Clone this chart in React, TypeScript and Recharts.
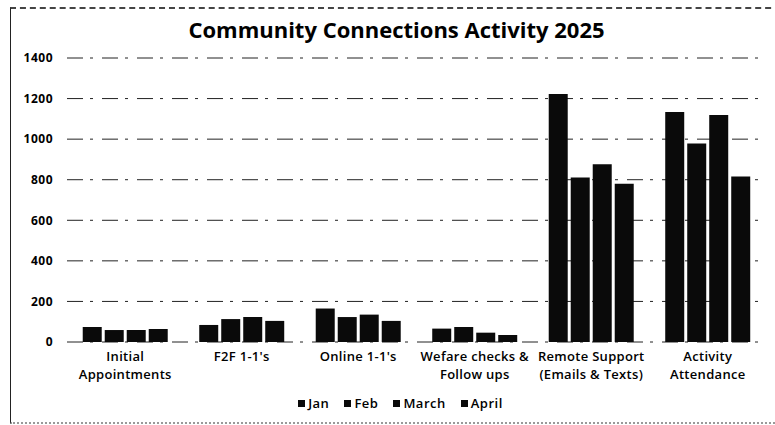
import React from "react";
import { BarChart, Bar, XAxis, YAxis, CartesianGrid, Legend } from "recharts";

const categories = [
  "Initial\nAppointments",
  "F2F 1-1's",
  "Online 1-1's",
  "Wefare checks &\nFollow ups",
  "Remote Support\n(Emails & Texts)",
  "Activity\nAttendance",
];
const jan = [74, 84, 165, 66, 1223, 1134];
const feb = [59, 113, 123, 74, 811, 979];
const march = [59, 123, 135, 46, 876, 1119];
const april = [64, 104, 104, 35, 780, 816];
const yTicks = [0, 200, 400, 600, 800, 1000, 1200, 1400];
const seriesNames = ["Jan", "Feb", "March", "April"];

const data = categories.map((c, i) => ({
  name: c,
  Jan: jan[i],
  Feb: feb[i],
  March: march[i],
  April: april[i],
}));

const FONT = "'Open Sans', Lato, sans-serif";

const XTick = (props: any) => {
  const { x, y, payload } = props;
  const lines = String(payload.value).split("\n");
  return (
    <g transform={`translate(${x},${y})`}>
      {lines.map((l: string, i: number) => (
        <text
          key={i}
          x={0}
          y={i * 18}
          dy={11}
          textAnchor="middle"
          fill="#000"
          fontSize={13}
          fontFamily={FONT}
          fontWeight={600}
          letterSpacing={0.3}
        >
          {l}
        </text>
      ))}
    </g>
  );
};

const LegendContent = () => (
  <div
    style={{
      display: "flex",
      justifyContent: "center",
      gap: 15,
      fontFamily: FONT,
      fontSize: 13,
      fontWeight: 600,
      letterSpacing: 0.5,
      color: "#000",
      paddingLeft: 35,
    }}
  >
    {seriesNames.map((s) => (
      <span key={s} style={{ display: "inline-flex", alignItems: "center" }}>
        <span
          style={{
            display: "inline-block",
            width: 7,
            height: 7,
            background: "#0a0a0a",
            marginRight: 3,
          }}
        />
        {s}
      </span>
    ))}
  </div>
);

export default function App() {
  return (
    <div
      style={{
        position: "absolute",
        left: 0,
        top: 0,
        width: 775,
        height: 425,
        background: "#fff",
        overflow: "hidden",
      }}
    >
      <div
        style={{
          position: "absolute",
          left: 10,
          top: 7,
          width: 780,
          height: 413,
          borderLeft: "1.5px solid #222",
          borderTop: "2px dashed #444",
          borderBottom: "2px dotted #999",
        }}
      />
      <div
        style={{
          position: "absolute",
          left: 0,
          width: 775,
          top: 14,
          textAlign: "center",
          fontFamily: FONT,
          fontWeight: 700,
          fontSize: 22,
          color: "#000",
          paddingLeft: 18,
          boxSizing: "border-box",
        }}
      >
        Community Connections Activity 2025
      </div>
      <div style={{ position: "absolute", left: 0, top: 0 }}>
        <BarChart
          width={775}
          height={425}
          data={data}
          margin={{ top: 58, right: 9, left: 0, bottom: 20 }}
          barCategoryGap="13.5%"
          barGap={3}
        >
          <CartesianGrid
            vertical={false}
            stroke="#222"
            strokeDasharray="16 7 3 9"
          />
          <XAxis
            dataKey="name"
            interval={0}
            axisLine={false}
            tickLine={false}
            tick={<XTick />}
            height={45}
          />
          <YAxis
            width={67}
            domain={[0, 1400]}
            ticks={yTicks}
            axisLine={false}
            tickLine={false}
            tickSize={0}
            tickMargin={14}
            tick={{ fill: "#000", fontSize: 12, fontFamily: FONT, fontWeight: 700, letterSpacing: 0.5 }}
          />
          <Legend
            verticalAlign="bottom"
            content={<LegendContent />}
            wrapperStyle={{ bottom: 13 }}
          />
          {seriesNames.map((s) => (
            <Bar key={s} dataKey={s} fill="#0a0a0a" isAnimationActive={false} />
          ))}
        </BarChart>
      </div>
    </div>
  );
}
